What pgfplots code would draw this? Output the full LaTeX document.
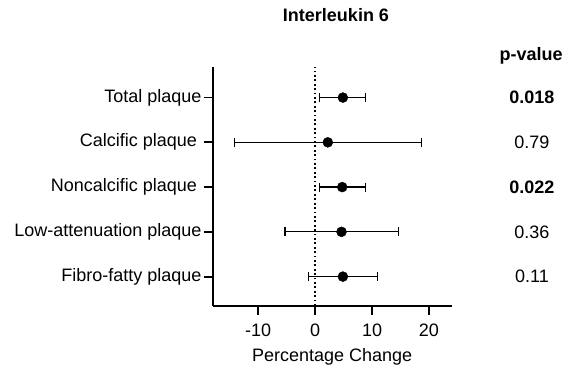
\documentclass[border=0pt]{standalone}
\usepackage{fontspec}
\setmainfont{Liberation Sans}
\usepackage{pgfplots}
\pgfplotsset{compat=1.18}
\usepackage{pgfplotstable}
\pgfplotstableread{
y x minus plus
5 4.88 4.11 4.00
4 2.23 16.40 16.47
3 4.76 4.05 4.12
2 4.64 9.93 10.00
1 4.88 6.00 6.11
}\datatable
\newcommand{\ff}{\fontsize{18bp}{21bp}\selectfont}
\begin{document}
\ff
\begin{tikzpicture}
\useasboundingbox (-212.7bp,-59.3bp) rectangle (350.3bp,305.7bp);
\begin{axis}[
  at={(0,0)}, anchor=south west,
  scale only axis, width=239bp, height=239bp,
  xmin=-18, xmax=24, ymin=0.35, ymax=5.69,
  axis x line*=bottom, axis y line*=left,
  axis line style={line width=1.8bp, black},
  every tick/.style={line width=1.8bp, black},
  major tick length=9bp, tick align=outside,
  xtick={-10,0,10,20},
  ytick={1,2,3,4,5},
  yticklabels={Fibro-fatty plaque, Low-attenuation plaque, Noncalcific plaque\hspace*{4.5bp}, Calcific plaque\hspace*{4.5bp}, Total plaque},
  /pgf/number format/assume math mode=true,
  tick label style={font=\ff},
  yticklabel style={inner xsep=2bp},
  xticklabel style={yshift=-3bp},
  label style={font=\ff},
  xlabel={Percentage Change},
  xlabel style={at={(rel axis cs:0.5,0)}, anchor=base, yshift=-55.5bp},
  title={\bfseries Interleukin 6},
  title style={font=\ff, at={(rel axis cs:0.5,1)}, anchor=base, yshift=39bp, xshift=3.8bp},
  clip=false,
]
\addplot[black, line width=1.8bp, dash pattern=on 1.8bp off 2.6bp] coordinates {(0,0.35) (0,5.69)};
\addplot[only marks, mark=*, mark size=5bp, black,
  error bars/.cd, x dir=both, x explicit,
  error mark=|,
  error bar style={line width=1.2bp, black},
  error mark options={line width=1.2bp, mark size=4.5bp, black}]
  table[x=x, y=y, x error plus=plus, x error minus=minus] {\datatable};
\node[anchor=base, font=\ff\bfseries] at (rel axis cs:1.332,1.025) {p-value};
\node[font=\ff\bfseries] at (axis cs:38.1,5) {0.018};
\node[font=\ff] at (axis cs:38.1,4) {0.79};
\node[font=\ff\bfseries] at (axis cs:38.1,3) {0.022};
\node[font=\ff] at (axis cs:38.1,2) {0.36};
\node[font=\ff] at (axis cs:38.1,1) {0.11};
\end{axis}
\end{tikzpicture}
\end{document}
